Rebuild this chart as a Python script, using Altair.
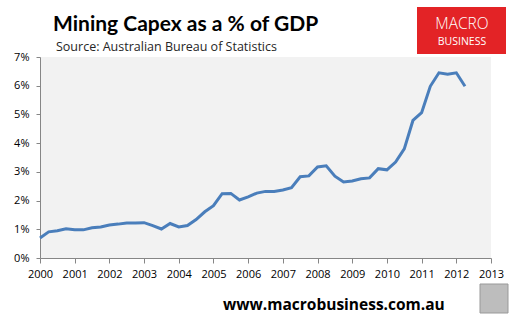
import altair as alt
import pandas as pd

TITLE = ["Mining Capex as a % of GDP"]
SUBTITLE = ["Source: Australian Bureau of Statistics"]
FOOTER = ["www.macrobusiness.com.au"]
LOGO_TOP = ["MACRO"]
LOGO_BOTTOM = ["BUSINESS"]

YEAR_TICKS = list(range(2000, 2014))
PCT_TICKS = [0, 0.01, 0.02, 0.03, 0.04, 0.05, 0.06, 0.07]

START_YEAR = 2000
capex_pct = [
    0.70, 0.91, 0.95, 1.02, 0.98, 0.98, 1.05, 1.08,
    1.15, 1.18, 1.22, 1.22, 1.23, 1.13, 1.01, 1.20,
    1.08, 1.13, 1.34, 1.61, 1.82, 2.24, 2.25, 2.02,
    2.13, 2.26, 2.32, 2.32, 2.37, 2.45, 2.83, 2.86,
    3.17, 3.21, 2.85, 2.65, 2.68, 2.76, 2.79, 3.11,
    3.07, 3.34, 3.80, 4.79, 5.06, 5.98, 6.45, 6.40,
    6.45, 5.98,
]

df = pd.DataFrame({
    "t": [START_YEAR + 0.25 * i for i in range(len(capex_pct))],
    "v": [p / 100 for p in capex_pct],
})

axis_common = dict(
    title=None, grid=False, domainColor="#868686", tickColor="#868686",
    labelColor="#000000", labelFont="Open Sans", labelFontSize=11,
)

line = alt.Chart(df).mark_line(color="#4a7ebb", strokeWidth=3).encode(
    x=alt.X("t:Q", scale=alt.Scale(domain=[2000, 2013], nice=False, zero=False),
            axis=alt.Axis(values=YEAR_TICKS, format="d", tickSize=5, labelPadding=5,
                          labelFlush=False, labelOverlap=False, **axis_common)),
    y=alt.Y("v:Q", scale=alt.Scale(domain=[0, 0.07], nice=False),
            axis=alt.Axis(values=PCT_TICKS, format=".0%", tickSize=4, labelPadding=7,
                          labelFlush=False, **axis_common)),
)

def text_layer(lines, x, y, size, weight="normal", font="Open Sans", color="#000000", align="left"):
    return alt.Chart(pd.DataFrame({"s": lines})).mark_text(
        font=font, fontSize=size, fontWeight=weight, color=color, align=align,
        baseline="alphabetic",
    ).encode(text="s:N", x=alt.value(x), y=alt.value(y))

logo_box = alt.Chart(pd.DataFrame({"s": LOGO_TOP})).mark_rect(color="#e32326").encode(
    x=alt.value(377), x2=alt.value(466), y=alt.value(-50), y2=alt.value(-3)
)
wolf_box = alt.Chart(pd.DataFrame({"s": FOOTER})).mark_rect(
    color="#bdbdbd", stroke="#999999", strokeWidth=1
).encode(x=alt.value(440), x2=alt.value(468), y=alt.value(227), y2=alt.value(256))

chart = alt.layer(
    line,
    text_layer(TITLE, 13, -26, 21, weight="bold", font="Lato"),
    text_layer(SUBTITLE, 16, -6, 12.5, font="Open Sans", color="#262626"),
    logo_box,
    text_layer(LOGO_TOP, 422, -28, 15.5, weight=300, font="Open Sans", color="#ffffff", align="center"),
    text_layer(LOGO_BOTTOM, 422, -12, 10.5, font="Open Sans", color="#ffffff", align="center"),
    text_layer(FOOTER, 183, 253, 15.5, weight="bold", font="Open Sans"),
    wolf_box,
).properties(
    width=451, height=201,
    autosize=alt.AutoSizeParams(type="none"),
    padding={"left": 40, "top": 57, "right": 25, "bottom": 63},
    background="#ffffff",
).configure_view(fill="#f2f2f2", stroke=None)

chart.save("out.html", embed_options={"renderer": "svg", "actions": False})
